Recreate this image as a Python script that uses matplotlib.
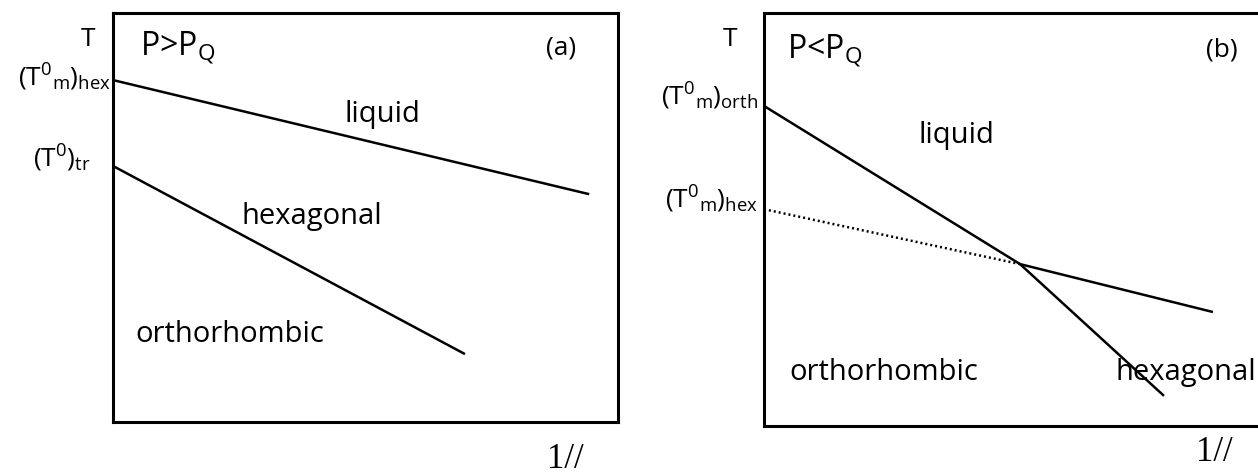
import matplotlib
matplotlib.use("Agg")
import matplotlib.pyplot as plt

plt.rcParams["font.family"] = ["Open Sans", "DejaVu Sans"]
plt.rcParams["mathtext.fontset"] = "custom"
plt.rcParams["mathtext.rm"] = "Open Sans"
plt.rcParams["mathtext.it"] = "Open Sans"
plt.rcParams["mathtext.bf"] = "Open Sans"

# Phase boundaries, (a) P > P_Q
a_melt_x = [0.0, 9.43]
a_melt_y = [8.36, 5.57]
a_trans_x = [0.0, 6.97]
a_trans_y = [6.26, 1.66]

# Phase boundaries, (b) P < P_Q
b_orth_x = [0.0, 5.07, 7.92]
b_orth_y = [7.75, 3.92, 0.73]
b_hexmelt_x = [5.07, 8.89]
b_hexmelt_y = [3.92, 2.76]
b_meta_x = [0.0, 5.07]
b_meta_y = [5.25, 3.92]

W, H = 1258, 476
fig = plt.figure(figsize=(W / 100, H / 100), dpi=100)

def make_axes(left, top, right, bottom):
    ax = fig.add_axes([left / W, 1 - bottom / H, (right - left) / W, (bottom - top) / H])
    ax.set_xlim(0, 10)
    ax.set_ylim(0, 10)
    ax.set_xticks([])
    ax.set_yticks([])
    for s in ax.spines.values():
        s.set_linewidth(2.2)
        s.set_color("black")
    return ax

ax_a = make_axes(113, 13, 618, 422)
ax_b = make_axes(764, 13, 1269, 426)

lw = 1.8
ax_a.plot(a_melt_x, a_melt_y, color="black", lw=lw, solid_capstyle="butt")
ax_a.plot(a_trans_x, a_trans_y, color="black", lw=lw, solid_capstyle="butt")

ax_b.plot(b_orth_x, b_orth_y, color="black", lw=lw, solid_capstyle="butt")
ax_b.plot(b_hexmelt_x, b_hexmelt_y, color="black", lw=lw, solid_capstyle="butt")
ax_b.plot(b_meta_x, b_meta_y, color="black", lw=1.8, linestyle=(0, (0.8, 1.2)))

big = 21
small = 19

# panel (a) labels
ax_a.text(4.59, 7.33, "liquid", fontsize=big)
ax_a.text(2.55, 4.84, "hexagonal", fontsize=big)
ax_a.text(0.45, 1.96, "orthorhombic", fontsize=big)
ax_a.text(0.53, 8.97, r"P>P$_{\mathrm{Q}}$", fontsize=23)
ax_a.text(8.87, 9.14, "(a)", fontsize=19, ha="center", va="center")
ax_a.text(-0.50, 9.34, "T", fontsize=small, ha="center", va="center", clip_on=False)
ax_a.text(-0.04, 8.22, r"$(\mathrm{T}^{0}{}_{\mathrm{m}})_{\mathrm{hex}}$", fontsize=small,
          ha="right", va="baseline", clip_on=False)
ax_a.text(-0.44, 6.23, r"$(\mathrm{T}^{0})_{\mathrm{tr}}$", fontsize=small,
          ha="right", va="baseline", clip_on=False)

# panel (b) labels
ax_b.text(3.05, 6.85, "liquid", fontsize=big)
ax_b.text(0.51, 1.11, "orthorhombic", fontsize=big)
ax_b.text(6.97, 1.11, "hexagonal", fontsize=big)
ax_b.text(0.46, 8.91, r"P<P$_{\mathrm{Q}}$", fontsize=23)
ax_b.text(9.07, 9.10, "(b)", fontsize=19, ha="center", va="center")
ax_b.text(-0.67, 9.35, "T", fontsize=small, ha="center", va="center", clip_on=False)
ax_b.text(-0.12, 7.77, r"$(\mathrm{T}^{0}{}_{\mathrm{m}})_{\mathrm{orth}}$", fontsize=small,
          ha="right", va="baseline", clip_on=False)
ax_b.text(-0.12, 5.28, r"$(\mathrm{T}^{0}{}_{\mathrm{m}})_{\mathrm{hex}}$", fontsize=small,
          ha="right", va="baseline", clip_on=False)

# x-axis quantity below each panel
fig.text(565 / W, 1 - 468 / H, "1//", fontsize=25, family="Liberation Serif",
         ha="center", va="baseline")
fig.text(1214 / W, 1 - 469 / H, "1//", fontsize=25, family="Liberation Serif",
         ha="center", va="bottom")

fig.savefig("out.png", dpi=100)
